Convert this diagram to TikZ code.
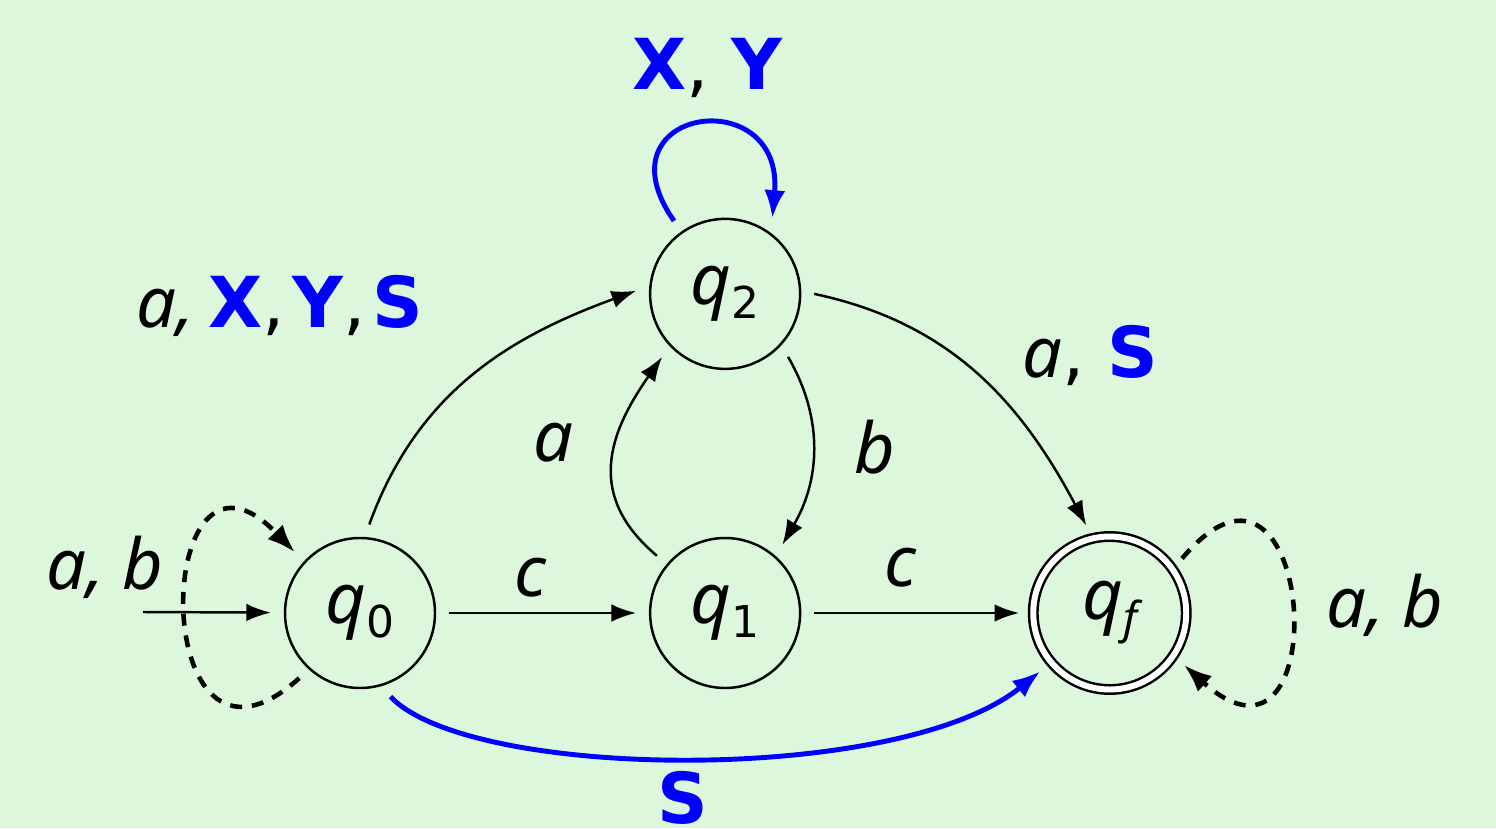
\documentclass[tikz,border=0pt]{standalone}
\usepackage{fontspec}
\setmainfont{DejaVu Sans}
\newfontfamily\mitf{Noto Sans}
\usetikzlibrary{arrows.meta, positioning}
\definecolor{slidebg}{RGB}{220,247,220}
\definecolor{gblue}{RGB}{0,0,255}
\newcommand{\vv}[1]{{\mitf\itshape #1}}
\newcommand{\bb}[1]{\textcolor{gblue}{\bfseries #1}}
\newcommand{\qs}[1]{\vv{q}\raisebox{-4pt}{\fontsize{12.5}{12.5}\selectfont #1}}

\begin{document}
\begin{tikzpicture}[
  font=\fontsize{20}{24}\selectfont,
  state/.style={draw, circle, line width=0.7pt, minimum size=1.5cm,
                inner sep=0pt, outer sep=4pt},
  accept/.style={state, double, double distance=1.7pt, minimum size=1.53cm},
  lab/.style={inner sep=1pt},
  arr/.style={-{Latex[length=7pt, width=5pt]}, line width=0.7pt},
  dsh/.style={-{Latex[length=8pt, width=6pt]}, line width=1.3pt,
              dash pattern=on 3.4pt off 2.8pt},
  blu/.style={-{Latex[length=8pt, width=6pt]}, line width=1.4pt, gblue}]
\fill[slidebg] (0,0) rectangle (14.96,8.28);
\useasboundingbox (0,0) rectangle (14.96,8.28);
% states
\node[state] (q0) at (3.60,2.15) {\qs{0}};
\node[state, right=1.87cm of q0] (q1) {\qs{1}};
\node[state, above=1.41cm of q1] (q2) {\qs{2}};
\node[accept, right=2.05cm of q1] (qf) {\qs{\vv{f}}};
\coordinate (start) at (1.43,2.16);
% transitions
\draw[arr] (start) -- (q0);
\draw[arr] (q0) -- (q1);
\draw[arr] (q1) -- (qf);
\draw[arr] (q0.84) to[out=70, in=200] (q2.178);
\draw[arr] (q1.140) to[out=140, in=235, looseness=1.2] (q2.225);
\draw[arr] (q2.-45) to[out=-60, in=60] (q1.50);
\draw[arr] (q2.0) to[out=-12, in=118] (qf.105);
\draw[blu] (q0.-70) .. controls +(0.8,-0.84) and +(-1.41,-1.14) .. (qf.220);
\draw[blu] (q2.125) to[out=125, in=85, looseness=3.6] (q2.58);
\draw[dsh] (q0.227) to[out=222, in=134, looseness=4.2] (q0.137);
\draw[dsh] (qf.37) to[out=50, in=-42, looseness=5] (qf.-35);
% labels
\node[lab] (lstart) at (1.05,2.61) {\vv{a, b}};
\node[lab] (l01) at (5.30,2.50) {\vv{c}};
\node[lab] (l1f) at (9.00,2.60) {\vv{c}};
\node[lab] (l02) at (2.80,5.22)
  {\vv{a,}\hspace{4pt}\bb{X},\hspace{2pt}\bb{Y},\hspace{2pt}\bb{S}};
\node[lab] (l12) at (5.53,3.85) {\vv{a}};
\node[lab] (l21) at (8.75,3.81) {\vv{b}};
\node[lab] (l2f) at (10.90,4.73) {\vv{a}, \bb{S}};
\node[lab] (l0f) at (6.83,0.30) {\bb{S}};
\node[lab] (l22) at (7.07,7.60) {\bb{X}, \bb{Y}};
\node[lab] (lff) at (13.85,2.23) {\vv{a, b}};
\end{tikzpicture}
\end{document}
